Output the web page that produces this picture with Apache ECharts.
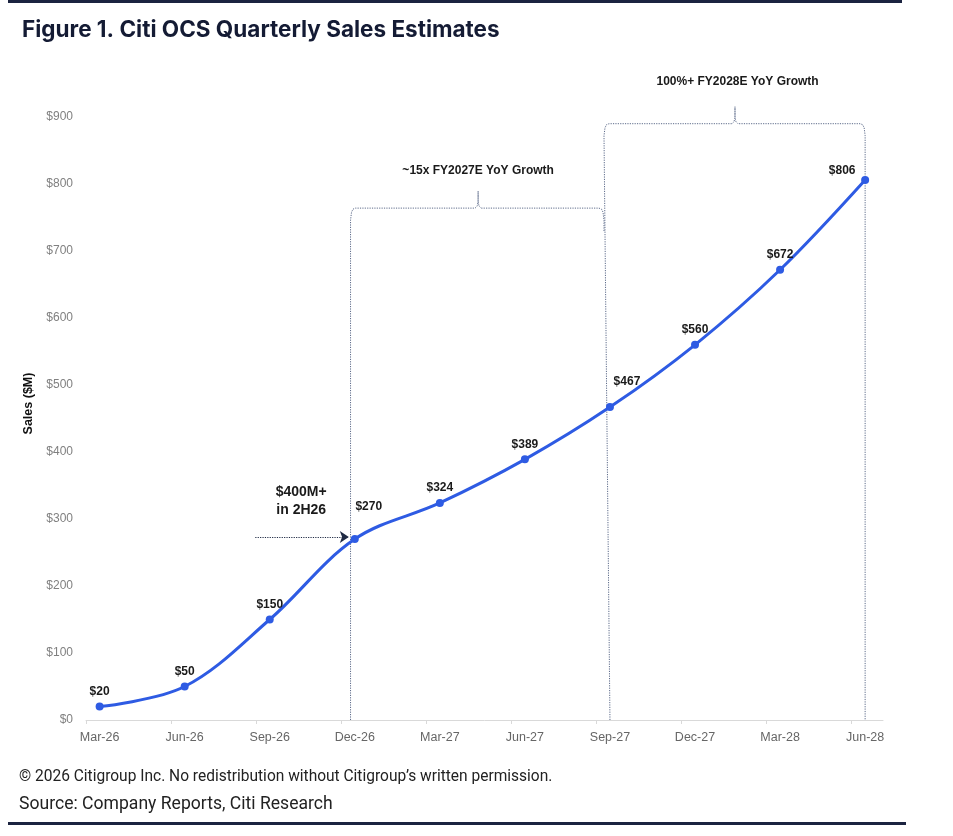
<!DOCTYPE html>
<html>
<head>
<meta charset="utf-8">
<script src="https://cdn.jsdelivr.net/npm/echarts@6/dist/echarts.min.js"></script>
<style>
html,body{margin:0;padding:0;background:#fff;}
#chart{width:953px;height:836px;}
</style>
</head>
<body>
<div id="chart"></div>
<script>
// ---- data ----
const categories = ['Mar-26','Jun-26','Sep-26','Dec-26','Mar-27','Jun-27','Sep-27','Dec-27','Mar-28','Jun-28'];
const sales = [20, 50, 150, 270, 324, 389, 467, 560, 672, 806];
const yTicks = [0, 100, 200, 300, 400, 500, 600, 700, 800, 900];
const titleText = 'Figure 1. Citi OCS Quarterly Sales Estimates';
const annotation1 = '~15x FY2027E YoY Growth';
const annotation2 = '100%+ FY2028E YoY Growth';
const annotation3 = '$400M+\nin 2H26';
const footer1 = '\u00A9 2026 Citigroup Inc. No redistribution without Citigroup\u2019s written permission.';
const footer2 = 'Source: Company Reports, Citi Research';

// ---- styling / layout helpers ----
const chart = echarts.init(document.getElementById('chart'));
const PX_X = 1 / 85.1;   // index units per pixel
const PX_Y = 1 / 0.67;   // value units per pixel
const bracketColor = '#5d6b8a';
const textDark = '#1a1a1a';
const labelOffsets = {3: [14, -17], 6: [17, -10], 9: [-23, 6]};

function brace(x0Bottom, x0, x1, yTop, xPeak, yLeftBottom, yRightBottom) {
  const dx = PX_X, dy = PX_Y;
  return [
    [x0Bottom, yLeftBottom],
    [x0, yTop - 12 * dy],
    [x0 + 1 * dx, yTop - 4 * dy],
    [x0 + 2.5 * dx, yTop - 1 * dy],
    [x0 + 5 * dx, yTop],
    [xPeak - 3 * dx, yTop],
    [xPeak - 1 * dx, yTop + 2 * dy],
    [xPeak, yTop + 6 * dy],
    [xPeak, yTop + 17 * dy],
    [xPeak, yTop + 6 * dy],
    [xPeak + 1 * dx, yTop + 2 * dy],
    [xPeak + 3 * dx, yTop],
    [x1 - 5 * dx, yTop],
    [x1 - 2.5 * dx, yTop - 1 * dy],
    [x1 - 1 * dx, yTop - 4 * dy],
    [x1, yTop - 12 * dy],
    [x1, yRightBottom]
  ];
}

const seriesData = sales.map((v, i) => {
  const item = {value: [i, v]};
  if (labelOffsets[i]) item.label = {offset: labelOffsets[i]};
  return item;
});

const annoLabel = (text, size, extra) => Object.assign({
  show: true, formatter: text, fontSize: size, fontWeight: 'bold',
  color: textDark, textBorderWidth: 0, position: 'inside', opacity: 1
}, extra || {});

const option = {
  backgroundColor: '#fff',
  animation: false,
  textStyle: {fontFamily: 'Liberation Sans'},
  title: {
    text: titleText,
    left: 17, top: 14,
    textStyle: {fontFamily: 'Inter', fontWeight: 'bold', fontSize: 22.5, color: '#141b34'}
  },
  grid: {left: 86, right: 70, top: 117, bottom: 116, containLabel: false},
  xAxis: {
    type: 'value', min: -0.16, max: 9.21,
    axisLine: {show: true, lineStyle: {color: '#d9d9d9', width: 1}},
    axisTick: {show: true, length: 4, lineStyle: {color: '#d9d9d9'},
      customValues: categories.map((c, i) => i - 0.16)},
    axisLabel: {customValues: categories.map((c, i) => i),
      formatter: v => categories[Math.round(v)], color: '#666', fontSize: 12.5, margin: 11},
    splitLine: {show: false}
  },
  yAxis: {
    type: 'value', min: yTicks[0], max: yTicks[yTicks.length - 1], interval: 100,
    axisLine: {show: false}, axisTick: {show: false}, splitLine: {show: false},
    axisLabel: {formatter: v => '$' + v, color: '#808080', fontSize: 12, margin: 13},
    name: 'Sales ($M)', nameLocation: 'middle', nameGap: 49, nameRotate: 90,
    nameTextStyle: {fontWeight: 'bold', fontSize: 12.5, color: '#111', padding: [0, 0, 0, 30]}
  },
  series: [
    {
      type: 'lines', coordinateSystem: 'cartesian2d', polyline: true, clip: false, silent: true, z: 1,
      lineStyle: {color: bracketColor, width: 1, type: [1.2, 1.2], opacity: 1},
      data: [
        {coords: brace(2.95, 2.95, 5.93, 764, 4.45, 0, 728)},
        {coords: brace(6.0, 5.93, 9.0, 890, 7.47, 0, 0)}
      ]
    },
    {
      type: 'lines', coordinateSystem: 'cartesian2d', clip: false, silent: true, z: 2,
      symbol: ['none', 'arrow'], symbolSize: [9, 9],
      lineStyle: {color: '#1f2a44', width: 1, type: [1.2, 1.2], opacity: 1},
      data: [{coords: [[1.83, 273], [2.93, 273]]}]
    },
    {
      type: 'line', z: 5,
      data: seriesData,
      smooth: 0.35,
      symbol: 'circle', symbolSize: 8,
      lineStyle: {color: '#2e5be3', width: 3},
      itemStyle: {color: '#2e5be3'},
      label: {show: true, position: 'top', distance: 5,
        formatter: p => '$' + p.value[1],
        fontWeight: 'bold', fontSize: 12, color: textDark}
    },
    {
      type: 'scatter', clip: false, silent: true, symbolSize: 1, z: 6,
      itemStyle: {color: 'rgba(255,255,255,0)', opacity: 1},
      data: [
        {value: [4.45, 820], label: annoLabel(annotation1, 12)},
        {value: [7.5, 953], label: annoLabel(annotation2, 12)},
        {value: [2.37, 327], label: annoLabel(annotation3, 14, {lineHeight: 18, align: 'center'})}
      ]
    }
  ],
  graphic: [
    {type: 'rect', shape: {x: 8, y: 0, width: 894, height: 3}, style: {fill: '#1b2340'}},
    {type: 'rect', shape: {x: 8, y: 822, width: 898, height: 3}, style: {fill: '#1b2340'}},
    {type: 'text', x: 19, y: 768, scaleX: 0.94, style: {text: footer1, fontFamily: 'Roboto', fontSize: 16.5, fill: '#222'}},
    {type: 'text', x: 19, y: 795, scaleX: 0.95, style: {text: footer2, fontFamily: 'Roboto', fontSize: 18.5, fill: '#222'}}
  ]
};
chart.setOption(option);
</script>
</body>
</html>
